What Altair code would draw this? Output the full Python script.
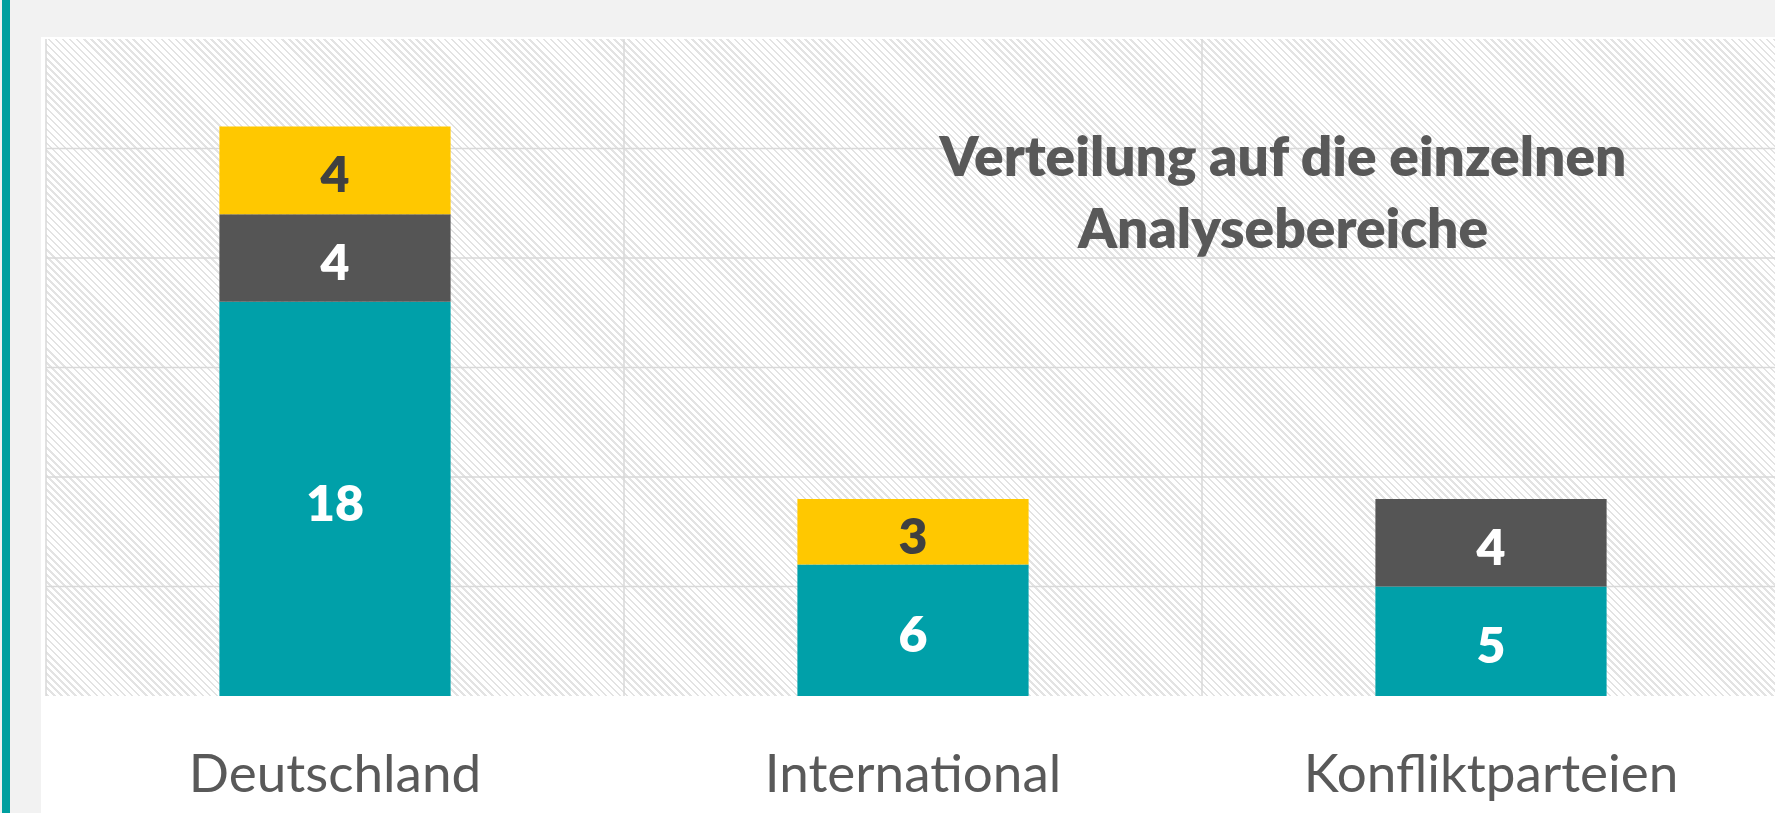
import altair as alt
import numpy as np
import pandas as pd

# ---- data ----
categories = ["Deutschland", "International", "Konfliktparteien"]
series_names = ["Bereich 1", "Bereich 2", "Bereich 3"]   # teal, dark grey, yellow (no legend in source)
teal_vals = [18, 6, 5]
grey_vals = [4, 0, 4]
yellow_vals = [4, 3, 0]
grid_values = [5, 10, 15, 20, 25]
title_lines = ["Verteilung auf die einzelnen", "Analysebereiche"]

series_colors = ["#00A0A9", "#555555", "#FFC800"]

rows = []
for ci, cat in enumerate(categories):
    for si, vals in enumerate([teal_vals, grey_vals, yellow_vals]):
        if vals[ci] > 0:
            rows.append({"kategorie": cat, "serie": series_names[si], "rang": si, "wert": vals[ci]})
df = pd.DataFrame(rows)

W, H = 1729, 657
FONT = "Lato"

# ---- hatched background texture as a linear gradient ----
hatch = "#e3e3e3"
L = (W + H) / np.sqrt(2)
period, sw = 5.0, 1.8
stops = []
pos = 0.0
while pos < L:
    s = pos / L
    e = min((pos + sw) / L, 1.0)
    stops += [
        {"offset": round(s, 6), "color": "#ffffff"},
        {"offset": round(s, 6), "color": hatch},
        {"offset": round(e, 6), "color": hatch},
        {"offset": round(e, 6), "color": "#ffffff"},
    ]
    pos += period
t = (W + H) / (W * W + H * H)
gradient = alt.LinearGradient(
    gradient="linear", stops=stops,
    x1=1, y1=0, x2=float(1 - t * W), y2=float(t * H),
)

one = alt.Data(values=[{"a": 1}])

card = alt.Chart(one).mark_rect(color="#ffffff").encode(
    x=alt.value(-5), x2=alt.value(W), y=alt.value(-2), y2=alt.value(H + 117)
)
stripe = alt.Chart(one).mark_rect(color="#009F9F").encode(
    x=alt.value(-44), x2=alt.value(-36), y=alt.value(-39), y2=alt.value(H + 117)
)
hatch_bg = alt.Chart(one).mark_rect(fill=gradient).encode(
    x=alt.value(0), x2=alt.value(W), y=alt.value(0), y2=alt.value(H)
)

xscale = alt.Scale(domain=categories, range=[0, 1734], paddingInner=0, paddingOuter=0)
yscale = alt.Scale(domain=[0, 30], nice=False, zero=True)
xaxis = alt.Axis(
    ticks=False, tickSize=0, domain=False, grid=False, zindex=2,
    labelFont=FONT, labelFontSize=53, labelColor="#595959", labelLimit=800,
    labelPadding=95, labelBaseline="alphabetic", labelAngle=0,
)

vgrid = alt.Chart(pd.DataFrame({"kategorie": categories})).mark_rule(
    color="#d9d9d9", strokeWidth=1.5
).encode(
    x=alt.X("kategorie:N", scale=xscale, sort=categories, bandPosition=0, axis=xaxis, title=None),
)
hgrid = alt.Chart(pd.DataFrame({"v": grid_values})).mark_rule(
    color="#d9d9d9", strokeWidth=1.5
).encode(
    y=alt.Y("v:Q", scale=yscale, axis=None),
)

base = alt.Chart(df).transform_stack(
    stack="wert", groupby=["kategorie"], as_=["y0", "y1"],
    sort=[alt.SortField("rang", order="ascending")],
).transform_calculate(mitte="(datum.y0 + datum.y1) / 2")

bars = base.mark_bar(width=alt.RelativeBandSize(0.4)).encode(
    x=alt.X("kategorie:N", scale=xscale, sort=categories, title=None, axis=xaxis),
    y=alt.Y("y0:Q", scale=yscale, axis=None),
    y2="y1:Q",
    color=alt.Color(
        "serie:N", scale=alt.Scale(domain=series_names, range=series_colors), legend=None
    ),
)

labels = base.mark_text(
    font=FONT, fontSize=50, fontWeight=800, baseline="middle", align="center", dy=7
).encode(
    x=alt.X("kategorie:N", scale=xscale, sort=categories, title=None, axis=xaxis),
    y=alt.Y("mitte:Q", scale=yscale, axis=None),
    text=alt.Text("wert:Q"),
    color=alt.condition(
        alt.datum.serie == series_names[2], alt.value("#404040"), alt.value("#ffffff")
    ),
)

title = alt.Chart(one).mark_text(
    font=FONT, fontSize=55, fontWeight=800, color="#595959",
    align="center", baseline="alphabetic", lineHeight=72,
).encode(
    x=alt.value(1237), y=alt.value(137), text=alt.value(title_lines)
)

chart = alt.layer(card, stripe, hatch_bg, vgrid, hgrid, bars, labels, title).properties(
    width=W, height=H,
    autosize=alt.AutoSizeParams(type="none"),
    padding={"left": 46, "top": 39, "right": 0, "bottom": 117},
    background="#F2F2F2",
).configure_view(stroke=None)

chart.save("out.html", embed_options={"renderer": "svg", "actions": False})
